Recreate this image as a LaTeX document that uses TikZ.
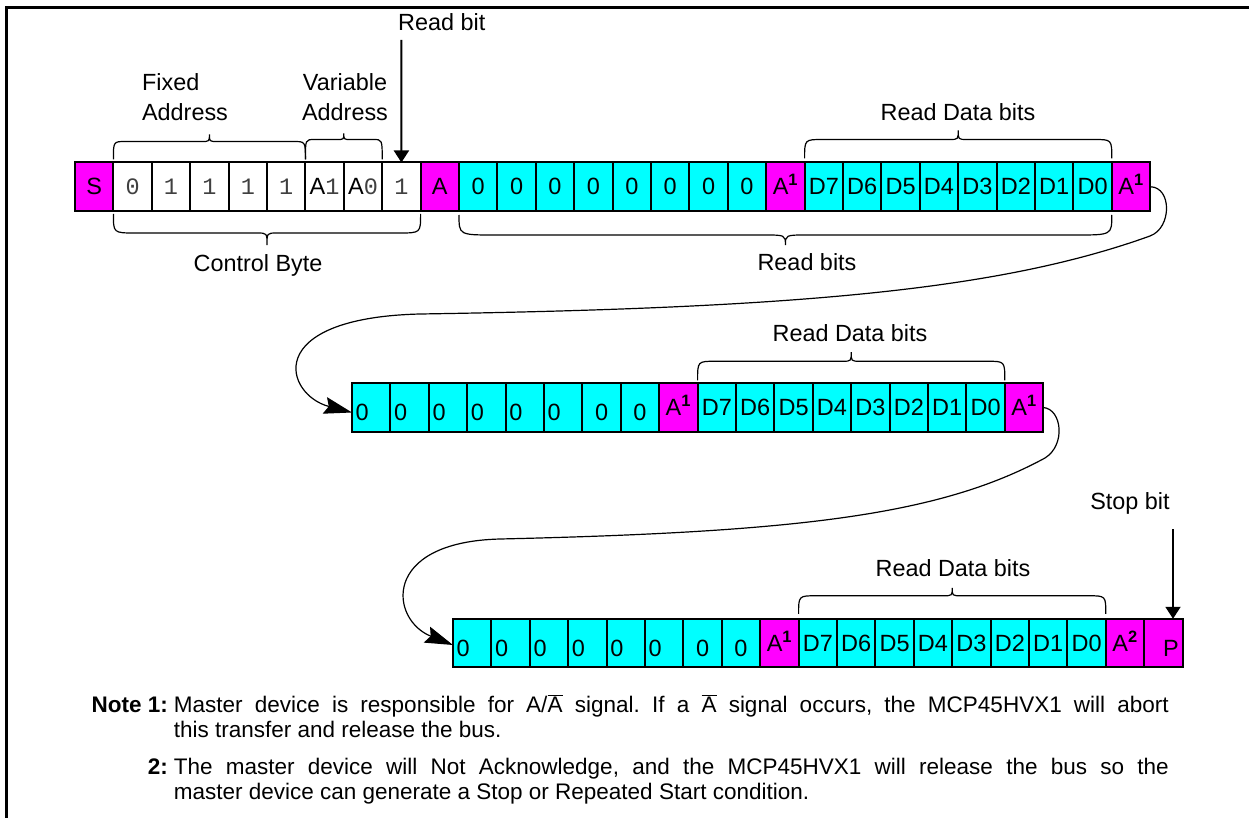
\documentclass[tikz,border=0pt]{standalone}
\usepackage{fontspec}
\setmainfont{Liberation Sans}
\setmonofont{Liberation Mono}
\usepackage{tikz}
\usetikzlibrary{arrows.meta,calc}

\definecolor{ackpink}{RGB}{255,0,255}
\definecolor{databg}{RGB}{0,255,255}
\newcommand{\mono}[1]{{\ttfamily\color{black!75}#1}}
\newcommand{\ackn}[1]{A\textsuperscript{\textbf{#1}}}
% brace: ends #1 #2, bar offset #3, tip offset #4, end curl #5, tip half width #6
\newcommand{\bitbrace}[6]{%
  \draw[brc] let \p1=(#1), \p2=(#2) in
    (\x1,\y1) .. controls (\x1,{\y1+(#3)}) .. ({\x1+#5},{\y1+(#3)})
    -- ({(\x1+\x2)/2-#6},{\y1+(#3)})
    .. controls ({(\x1+\x2)/2},{\y1+(#3)}) .. ({(\x1+\x2)/2},{\y1+(#4)})
    .. controls ({(\x1+\x2)/2},{\y1+(#3)}) .. ({(\x1+\x2)/2+#6},{\y1+(#3)})
    -- ({\x2-#5},{\y1+(#3)}) .. controls (\x2,{\y1+(#3)}) .. (\x2,\y2);}
\frenchspacing

\begin{document}
\begin{tikzpicture}[x=1pt,y=-1pt,node distance=38.4pt,inner sep=0pt,
  >={Triangle[width=15pt,length=12pt]},
  cell/.style={draw,line width=2pt,outer sep=0pt,minimum width=38.4pt,minimum height=48.5pt,
    text height=16.5pt,text depth=0pt,font=\fontsize{23.5}{27}\selectfont},
  wbit/.style={cell,fill=white},
  cbit/.style={cell,fill=databg},
  mbit/.style={cell,fill=ackpink},
  low/.style={text height=26pt},
  lft/.style={text width=31pt,align=left},
  rgt/.style={text width=31pt,align=right},
  lbl/.style={font=\fontsize{23.4}{30}\selectfont,align=center},
  brc/.style={line width=1.2pt},
  ptr/.style={->,line width=2pt},
  swoop/.style={line width=1.2pt,-{Stealth[length=28pt,width=17pt,inset=4pt]}}]
\useasboundingbox (0,0) rectangle (1249,818);
\draw[line width=2.7pt] (1249,7.5) -- (6.7,7.5) -- (6.7,818);

% first frame: control byte and first reads
\node[mbit] (a1) at (94.2,186.75) {S};
\node[wbit] (a2) [right of=a1] {\mono{0}};
\node[wbit] (a3) [right of=a2] {\mono{1}};
\node[wbit] (a4) [right of=a3] {\mono{1}};
\node[wbit] (a5) [right of=a4] {\mono{1}};
\node[wbit] (a6) [right of=a5] {\mono{1}};
\node[wbit] (a7) [right of=a6] {A\mono{1}};
\node[wbit] (a8) [right of=a7] {A\mono{0}};
\node[wbit] (a9) [right of=a8] {\mono{1}};
\node[mbit] (a10) [right of=a9] {A};
\node[cbit] (a11) [right of=a10] {0};
\node[cbit] (a12) [right of=a11] {0};
\node[cbit] (a13) [right of=a12] {0};
\node[cbit] (a14) [right of=a13] {0};
\node[cbit] (a15) [right of=a14] {0};
\node[cbit] (a16) [right of=a15] {0};
\node[cbit] (a17) [right of=a16] {0};
\node[cbit] (a18) [right of=a17] {0};
\node[mbit] (a19) [right of=a18] {\ackn{1}};
\node[cbit] (a20) [right of=a19] {D7};
\node[cbit] (a21) [right of=a20] {D6};
\node[cbit] (a22) [right of=a21] {D5};
\node[cbit] (a23) [right of=a22] {D4};
\node[cbit] (a24) [right of=a23] {D3};
\node[cbit] (a25) [right of=a24] {D2};
\node[cbit] (a26) [right of=a25] {D1};
\node[cbit] (a27) [right of=a26] {D0};
\node[mbit] (a28) [right of=a27] {\ackn{1}};

% second frame
\node[cbit,low,lft] (b1) at (371.2,407.5) {0};
\node[cbit,low,lft] (b2) [right of=b1] {0};
\node[cbit,low,lft] (b3) [right of=b2] {0};
\node[cbit,low,lft] (b4) [right of=b3] {0};
\node[cbit,low,lft] (b5) [right of=b4] {0};
\node[cbit,low,lft] (b6) [right of=b5] {0};
\node[cbit,low] (b7) [right of=b6] {0};
\node[cbit,low] (b8) [right of=b7] {0};
\node[mbit] (b9) [right of=b8] {\ackn{1}};
\node[cbit] (b10) [right of=b9] {D7};
\node[cbit] (b11) [right of=b10] {D6};
\node[cbit] (b12) [right of=b11] {D5};
\node[cbit] (b13) [right of=b12] {D4};
\node[cbit] (b14) [right of=b13] {D3};
\node[cbit] (b15) [right of=b14] {D2};
\node[cbit] (b16) [right of=b15] {D1};
\node[cbit] (b17) [right of=b16] {D0};
\node[mbit] (b18) [right of=b17] {\ackn{1}};

% last frame
\node[cbit,low,lft] (c1) at (472.2,643) {0};
\node[cbit,low,lft] (c2) [right of=c1] {0};
\node[cbit,low,lft] (c3) [right of=c2] {0};
\node[cbit,low,lft] (c4) [right of=c3] {0};
\node[cbit,low,lft] (c5) [right of=c4] {0};
\node[cbit,low,lft] (c6) [right of=c5] {0};
\node[cbit,low] (c7) [right of=c6] {0};
\node[cbit,low] (c8) [right of=c7] {0};
\node[mbit] (c9) [right of=c8] {\ackn{1}};
\node[cbit] (c10) [right of=c9] {D7};
\node[cbit] (c11) [right of=c10] {D6};
\node[cbit] (c12) [right of=c11] {D5};
\node[cbit] (c13) [right of=c12] {D4};
\node[cbit] (c14) [right of=c13] {D3};
\node[cbit] (c15) [right of=c14] {D2};
\node[cbit] (c16) [right of=c15] {D1};
\node[cbit] (c17) [right of=c16] {D0};
\node[mbit] (c18) [right of=c17] {\ackn{2}};
\node[mbit,low,rgt] (c19) [right of=c18] {P};

% labels
\node[lbl,anchor=west] (rbl) at (398,22) {Read bit};
\node[lbl,align=left] (fa) at (185,97) {Fixed\\Address};
\node[lbl] (va) at (345,97) {Variable\\Address};
\node[lbl] (cb) at (258,265) {Control Byte};
\node[lbl] (rb) at (807,262) {Read bits};
\node[lbl] (rd1) at (958,112) {Read Data bits};
\node[lbl] (rd2) at (850,333) {Read Data bits};
\node[lbl] (rd3) at (953,568) {Read Data bits};
\node[lbl] (sbl) at (1130,503) {Stop bit};

% braces
\bitbrace{[yshift=3pt]a2.north west}{[yshift=3pt]a6.north east}{18pt}{25pt}{12pt}{8pt}
\bitbrace{[yshift=3pt]a7.north west}{[yshift=3pt]a8.north east}{20pt}{26pt}{9pt}{7pt}
\bitbrace{[yshift=-3pt]a2.south west}{[yshift=-3pt]a9.south east}{-19pt}{-31pt}{22pt}{10pt}
\bitbrace{[yshift=-4pt]a11.south west}{[yshift=-4pt]a27.south east}{-20pt}{-30pt}{36pt}{22pt}
\bitbrace{[yshift=4pt]a20.north west}{[yshift=4pt]a27.north east}{19pt}{28pt}{18pt}{9pt}
\bitbrace{[yshift=3pt]b10.north west}{[yshift=3pt]b17.north east}{19pt}{28pt}{18pt}{9pt}
\bitbrace{[yshift=5pt]c10.north west}{[yshift=5pt]c17.north east}{18pt}{26pt}{18pt}{9pt}

% pointers
\coordinate (rbt) at (401.4,40);
\draw[ptr] (rbt) -- (a9.north);
\coordinate (sbt) at (1173,529);
\draw[ptr] (sbt) -- (c19.north -| sbt);

% wrap-around connectors
\draw[swoop] (a28.east) .. controls (1172,187) and (1172,228) .. (1150,236)
  .. controls (1000,290) and (800,308) .. (420,314)
  .. controls (260,318) and (285,395) .. ([yshift=-5pt]b1.west);
\draw[swoop] (b18.east) .. controls (1062,409) and (1066,445) .. (1045,458)
  .. controls (940,515) and (800,532) .. (500,539)
  .. controls (380,542) and (390,620) .. ([yshift=-2pt]c1.west);

% notes
\node[anchor=base east,font=\fontsize{22.5}{25.5}\selectfont] (notes) at (1169,712) {%
  \begin{tabular}[t]{@{}r@{\hspace{6pt}}p{995pt}@{}}
  \textbf{Note 1:} & Master device is responsible for A/$\overline{\mbox{A}}$ signal. If a $\overline{\mbox{A}}$ signal occurs, the MCP45HVX1 will abort\linebreak this transfer and release the bus.\\[11pt]
  \textbf{2:} & The master device will Not Acknowledge, and the MCP45HVX1 will release the bus so the\linebreak master device can generate a Stop or Repeated Start condition.
  \end{tabular}};
\end{tikzpicture}
\end{document}
